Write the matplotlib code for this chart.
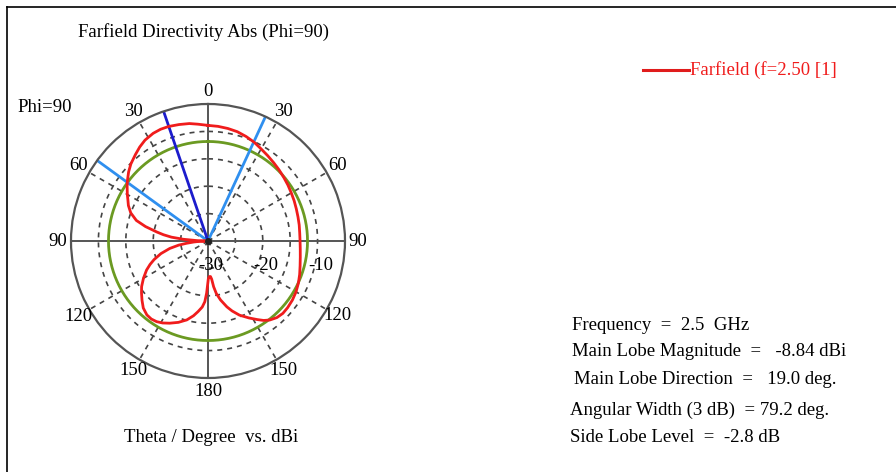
import numpy as np
import matplotlib.pyplot as plt
from matplotlib.lines import Line2D

plt.rcParams['font.family'] = ['Liberation Serif', 'DejaVu Serif']

W, H = 896, 472

## Data (theta clockwise from top, 0..360; left half is Phi=270)
theta_deg = [0, 5, 10, 15, 20, 25, 30, 35, 40, 45, 50, 55, 60, 65, 70, 75, 80,
             85, 90, 95, 100, 105, 110, 115, 120, 125, 130, 134, 138, 142, 145,
             148, 152, 157, 161, 164, 168, 171, 173, 174.5, 176, 178, 179.5,
             180.5, 181.5, 183, 185, 188, 191, 195, 200, 205, 209, 212.5, 216,
             219.6, 224, 228, 232, 235.5, 240, 244.7, 248, 251, 255, 259, 262,
             264, 266, 268, 270, 271, 272, 274, 276, 278, 280, 283, 286, 290,
             294, 297, 300, 304, 307, 311, 315, 320, 324, 328, 333, 337, 341,
             346, 351, 355, 360]
dir_db = [-8.9, -9.0, -9.15, -9.35, -9.7, -10.1, -10.6, -11.0, -11.35, -11.65,
          -11.95, -12.2, -12.45, -12.65, -12.85, -13.0, -13.1, -13.2, -13.2,
          -13.1, -12.9, -12.6, -12.2, -11.8, -11.45, -11.2, -11.05, -11.0,
          -11.2, -11.7, -12.3, -13.1, -14.1, -15.3, -16.5, -17.5, -19.0, -20.3,
          -21.6, -23.0, -23.5, -23.5, -23.1, -22.0, -20.5, -18.9, -17.9, -17.0,
          -16.1, -15.1, -14.2, -13.45, -12.9, -12.55, -12.4, -12.5, -13.0,
          -13.8, -14.6, -15.3, -16.4, -17.6, -18.6, -19.6, -21.1, -22.9, -24.6,
          -26.1, -27.4, -28.6, -30.0, -29.0, -28.0, -25.5, -23.3, -21.8, -20.5,
          -18.3, -16.4, -15.0, -14.1, -13.6, -13.0, -12.2, -11.6, -10.8, -10.1,
          -9.4, -8.8, -8.3, -7.95, -7.85, -7.9, -8.1, -8.3, -8.6, -8.9]

level_3db = -11.84          # main lobe -3 dB
main_dir = -18.9            # main lobe direction (deg)
beam_edges = [24.8, -54.0]  # 3 dB width edges

r_min, r_max = -30, -5
ring_vals = [-25, -20, -15, -10]
r_tick_vals = [-30, -20, -10]
r_tick_labels = ['-30', '-20', '-10']
ang_ticks = [0, 30, 60, 90, 120, 150, 180, 210, 240, 270, 300, 330]
ang_labels = ['0', '30', '60', '90', '120', '150', '180', '150', '120', '90', '60', '30']

info_lines = ['Frequency  =  2.5  GHz',
              'Main Lobe Magnitude  =   -8.84 dBi',
              'Main Lobe Direction  =   19.0 deg.',
              'Angular Width (3 dB)  = 79.2 deg.',
              'Side Lobe Level  =  -2.8 dB']
info_xy = [(572, 326), (572, 352), (574, 380), (570, 410), (570, 437)]

FS = 13.5

fig = plt.figure(figsize=(W / 100, H / 100), dpi=100)

cx, cy, R = 208, 241, 137
ax = fig.add_axes([(cx - R) / W, (H - cy - R) / H, 2 * R / W, 2 * R / H],
                  projection='polar')
ax.set_theta_zero_location('N')
ax.set_theta_direction(-1)
ax.set_ylim(r_min, r_max)
ax.set_xticks([])
ax.set_yticks([])
ax.grid(False)
ax.spines['polar'].set_color('#555555')
ax.spines['polar'].set_linewidth(1.6)

# dashed rings and spokes
full = np.linspace(0, 2 * np.pi, 361)
for rv in ring_vals:
    ax.plot(full, np.full_like(full, rv), color='#444444', lw=1.2,
            ls=(0, (3, 3)))
for a in [30, 60, 120, 150, 210, 240, 300, 330]:
    ax.plot([np.deg2rad(a)] * 2, [r_min, r_max], color='#444444', lw=1.2,
            ls=(0, (3, 3)))
for a in [0, 90, 180, 270]:
    ax.plot([np.deg2rad(a)] * 2, [r_min, r_max], color='#555555', lw=1.4)

# -3 dB circle
ax.plot(full, np.full_like(full, level_3db), color='#6b9a22', lw=2.0)

# beam lines
for e in beam_edges:
    ax.plot([np.deg2rad(e)] * 2, [r_min, r_max], color='#2f8fef', lw=2.0)
ax.plot([np.deg2rad(main_dir)] * 2, [r_min, r_max], color='#1c1ccc', lw=2.0)

# pattern
ax.plot(np.deg2rad(theta_deg), dir_db, color='#f01c1c', lw=2.0)
ax.plot([0], [r_min], 'o', color='#222222', ms=4)

# angle labels
r_lab = r_min + 150 / (R / (r_max - r_min))
for a, lab in zip(ang_ticks, ang_labels):
    ax.text(np.deg2rad(a), r_lab, lab, ha='center', va='center',
            fontsize=FS, clip_on=False)

for rv, lab in zip(r_tick_vals, r_tick_labels):
    ax.annotate(lab, xy=(np.pi / 2, rv), xytext=(3, -24),
                textcoords='offset pixels', ha='center', va='center',
                fontsize=FS, annotation_clip=False)

# texts
def ft(x, y, s, **kw):
    fig.text(x / W, 1 - y / H, s, va='center', fontsize=FS, **kw)

ft(203, 32, 'Farfield Directivity Abs (Phi=90)', ha='center')
ft(17, 107, 'Phi=90', ha='left')
ft(211, 438, 'Theta / Degree  vs. dBi', ha='center')
ft(690, 70, 'Farfield (f=2.50 [1]', ha='left', color='#f01c1c')
fig.add_artist(Line2D([643 / W, 689 / W], [1 - 70 / H] * 2, color='#e01c1c',
                      lw=2.2))
for s, (x, y) in zip(info_lines, info_xy):
    ft(x, y, s, ha='left')

# frame (top and left)
fig.add_artist(Line2D([6.5 / W, 6.5 / W], [0, 1 - 6.5 / H], color='black', lw=1.2))
fig.add_artist(Line2D([6.5 / W, 1], [1 - 6.5 / H] * 2, color='black', lw=1.2))

fig.savefig('out.png', dpi=100)
